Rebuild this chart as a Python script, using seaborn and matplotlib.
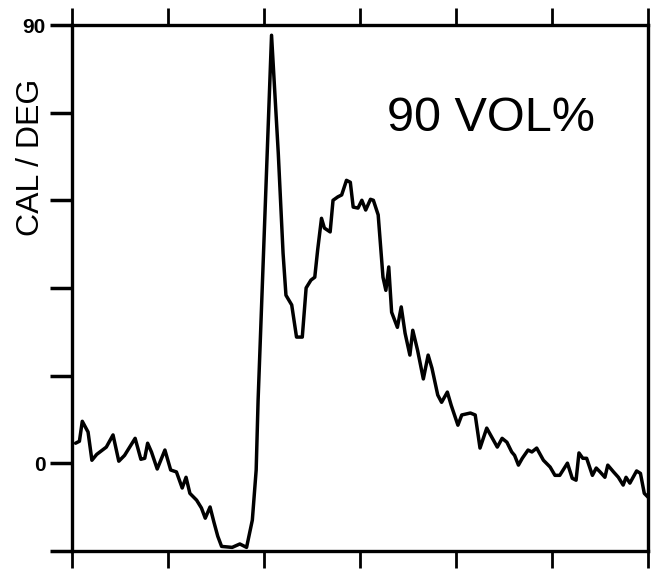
import matplotlib
matplotlib.use("Agg")
import matplotlib.pyplot as plt
import seaborn as sns
import pandas as pd

# ------ DATA ------ #

temp = [0.4, 0.8, 1.1, 1.7, 2.1, 2.6, 3.2, 3.6, 4.3, 4.9, 5.5, 6.6, 7.2, 7.6, 7.9, 8.3,
        8.9, 9.7, 10.3, 10.9, 11.5, 11.9, 12.3, 13.0, 13.5, 13.9, 14.4, 14.8, 15.2, 15.6,
        16.7, 17.5, 18.2, 18.8, 19.2, 19.4, 20.8, 21.5, 22.0, 22.3, 22.9, 23.4, 24.0, 24.4,
        24.9, 25.3, 25.6, 26.0, 26.3, 26.9, 27.2, 27.7, 28.1, 28.6, 29.0, 29.3, 29.8, 30.2,
        30.6, 31.1, 31.4, 31.9, 32.4, 32.7, 33.0, 33.3, 33.9, 34.3, 34.7, 35.2, 35.5, 36.0,
        36.6, 37.1, 37.5, 38.1, 38.5, 39.1, 39.5, 40.2, 40.6, 41.5, 42.0, 42.5, 43.2, 44.3,
        44.8, 45.3, 45.8, 46.1, 46.5, 46.9, 47.5, 47.9, 48.4, 49.1, 49.8, 50.3, 50.8, 51.6,
        52.1, 52.5, 52.8, 53.2, 53.6, 54.2, 54.6, 55.0, 55.5, 55.8, 56.4, 56.9, 57.4, 57.7,
        58.1, 58.8, 59.2, 59.6, 60.0]

cal_deg = [4.1, 4.5, 8.6, 6.4, 0.6, 1.8, 2.7, 3.3, 5.8, 0.4, 1.6, 5.1, 0.8, 1.0, 4.1, 2.3,
           -1.2, 2.7, -1.4, -1.8, -5.1, -2.9, -6.2, -7.6, -9.2, -11.3, -9.0, -12.1, -15.0, -17.1,
           -17.3, -16.6, -17.3, -11.7, -1.4, 12.9, 87.9, 63.7, 43.1, 34.5, 32.5, 25.9, 25.9, 36.0,
           37.6, 38.2, 43.8, 50.3, 48.3, 47.5, 54.0, 54.7, 55.1, 58.1, 57.7, 52.6, 52.4, 54.0,
           52.0, 54.2, 54.0, 51.0, 38.2, 35.5, 40.3, 31.0, 27.9, 32.1, 26.7, 22.2, 27.3, 23.2,
           17.3, 22.2, 19.5, 14.0, 12.5, 14.6, 11.9, 7.8, 9.9, 10.3, 9.9, 3.1, 7.2, 3.3,
           5.1, 4.3, 2.3, 1.6, -0.4, 1.0, 2.7, 2.3, 3.1, 0.6, -0.8, -2.5, -2.5, 0.0,
           -3.1, -3.5, 2.1, 1.0, 1.0, -2.5, -1.0, -1.8, -2.9, -0.4, -1.8, -2.9, -4.5, -2.9,
           -4.1, -1.6, -2.1, -6.2, -7.0]

x_ticks = [0, 10, 20, 30, 40, 50, 60]
y_ticks = [-18, 0, 18, 36, 54, 72, 90]
y_labels = ["", "0", "", "", "", "", "90"]

df = pd.DataFrame({"temp": temp, "cal_deg": cal_deg})

# ------ STYLE ------ #

sns.set_style("white")
plt.rcParams["font.family"] = ["Liberation Sans", "DejaVu Sans"]
plt.rcParams["text.color"] = "black"
plt.rcParams["ytick.color"] = "black"
plt.rcParams["xtick.color"] = "black"

fig = plt.figure(figsize=(6.58, 5.69), dpi=100)
ax = fig.add_axes([0.109, 0.032, 0.876, 0.924])

# ------ PLOT ------ #

sns.lineplot(data=df, x="temp", y="cal_deg", ax=ax, color="black",
             linewidth=2.5, estimator=None, sort=False)

ax.set_xlim(0, 60)
ax.set_ylim(-18, 90)
ax.set_xticks(x_ticks)
ax.set_xticklabels([])
ax.set_yticks(y_ticks)
ax.set_yticklabels(y_labels)
for lab in ax.get_yticklabels():
    lab.set_fontsize(15)
    lab.set_fontweight("bold")
    lab.set_color("black")

ax.tick_params(axis="x", which="both", top=True, bottom=True, direction="out",
               length=12, width=2, color="black")
ax.tick_params(axis="y", left=True, right=False, direction="out",
               length=16, width=2.5, color="black", pad=3)

for s in ax.spines.values():
    s.set_color("black")
    s.set_linewidth(2.4)

ax.set_xlabel("")
ax.set_ylabel("")

# axis title and curve label
fig.text(0.047, 0.723, "CAL / DEG", rotation=90, fontsize=23,
         ha="center", va="center", color="black")
ax.text(0.547, 0.823, "90 VOL%", transform=ax.transAxes, fontsize=35,
        ha="left", va="center", color="black")

fig.savefig("out.png", dpi=100)
